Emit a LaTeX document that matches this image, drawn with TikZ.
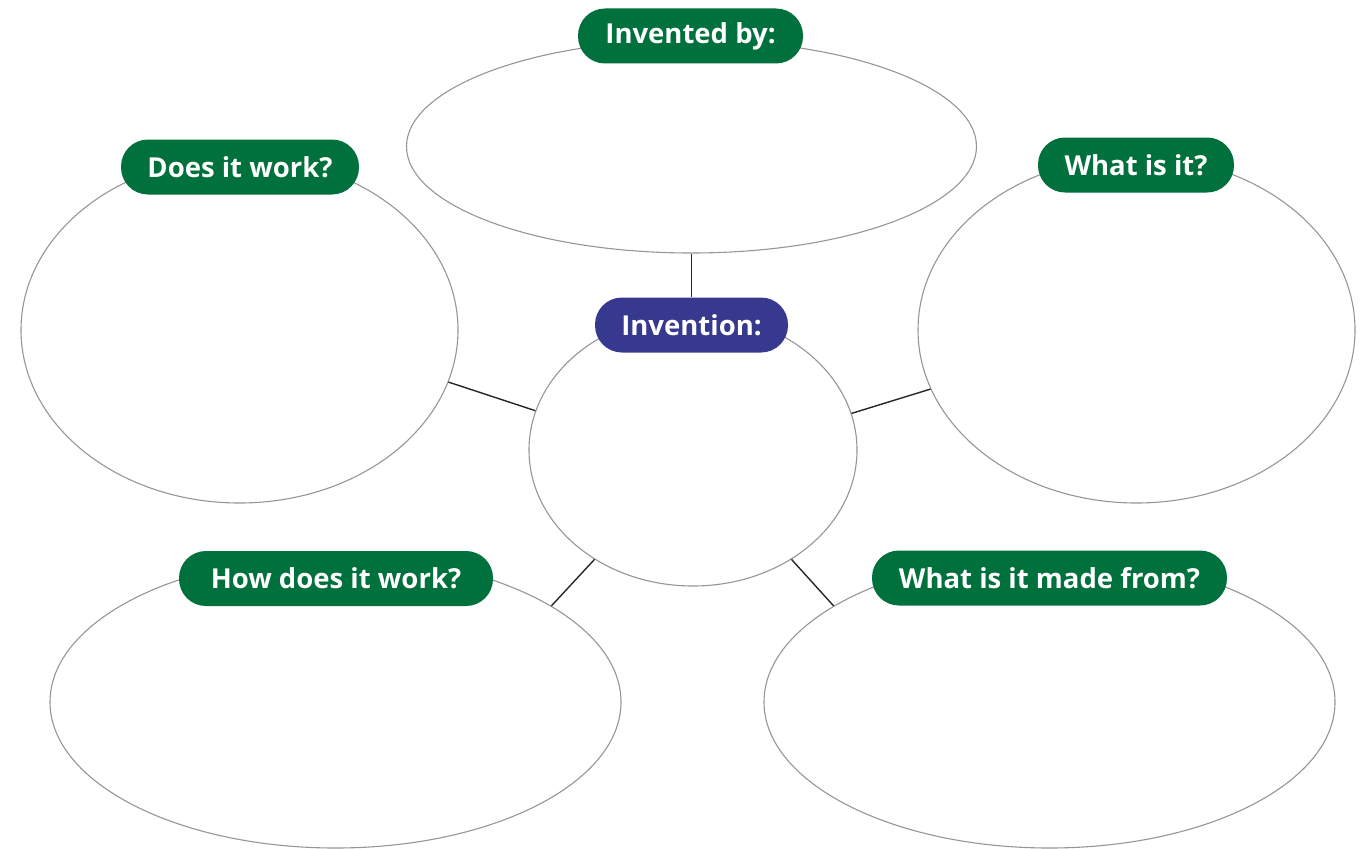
\documentclass[tikz,border=0pt]{standalone}
\usepackage{fontspec}
\setmainfont{Open Sans}
\usetikzlibrary{shapes.geometric}
\definecolor{lgreen}{RGB}{0,112,60}
\definecolor{lblue}{RGB}{54,57,142}
\definecolor{egray}{RGB}{150,150,150}
\begin{document}
\begin{tikzpicture}[x=1pt,y=-1pt,
  bubble/.style={ellipse,draw=egray,line width=1.1pt,inner sep=0pt,fill=white},
  tag/.style={rounded corners=27pt,fill=lgreen,text=white,font=\bfseries\fontsize{27.5}{31}\selectfont,minimum height=55pt,inner sep=0pt,anchor=center},
  link/.style={draw=black!85,line width=1.4pt}]
\useasboundingbox (0,0) rectangle (1372,848);
\node[bubble,minimum width=570pt,minimum height=213pt] (top) at (691.5,146.5) {};
\node[bubble,minimum width=437pt,minimum height=346pt] (left) at (239.5,330) {};
\node[bubble,minimum width=437pt,minimum height=346pt] (right) at (1136.5,330) {};
\node[bubble,minimum width=328pt,minimum height=272pt] (mid) at (693,450) {};
\node[bubble,minimum width=571pt,minimum height=292pt] (bl) at (335.5,702) {};
\node[bubble,minimum width=571pt,minimum height=292pt] (br) at (1049.5,702) {};
\node[tag,minimum width=225pt] (ttop) at (690.5,36) {Invented by:};
\node[tag,minimum width=238pt] (tleft) at (240,167) {Does it work?};
\node[tag,minimum width=196pt] (tright) at (1136,165) {What is it?};
\node[tag,fill=lblue,minimum width=193pt] (tmid) at (691.5,325) {Invention:};
\node[tag,minimum width=314pt] (tbl) at (336,578.5) {How does it work?};
\node[tag,minimum width=355pt] (tbr) at (1049.5,578) {What is it made from?};
\draw[link] (top.south) -- (tmid.north);
\draw[link] (left.-14.3) -- (mid.166.2);
\draw[link] (right.-164.9) -- (mid.13.9);
\draw[link] (bl.24.2) -- (mid.228);
\draw[link] (br.156.2) -- (mid.-48.6);
\end{tikzpicture}
\end{document}
